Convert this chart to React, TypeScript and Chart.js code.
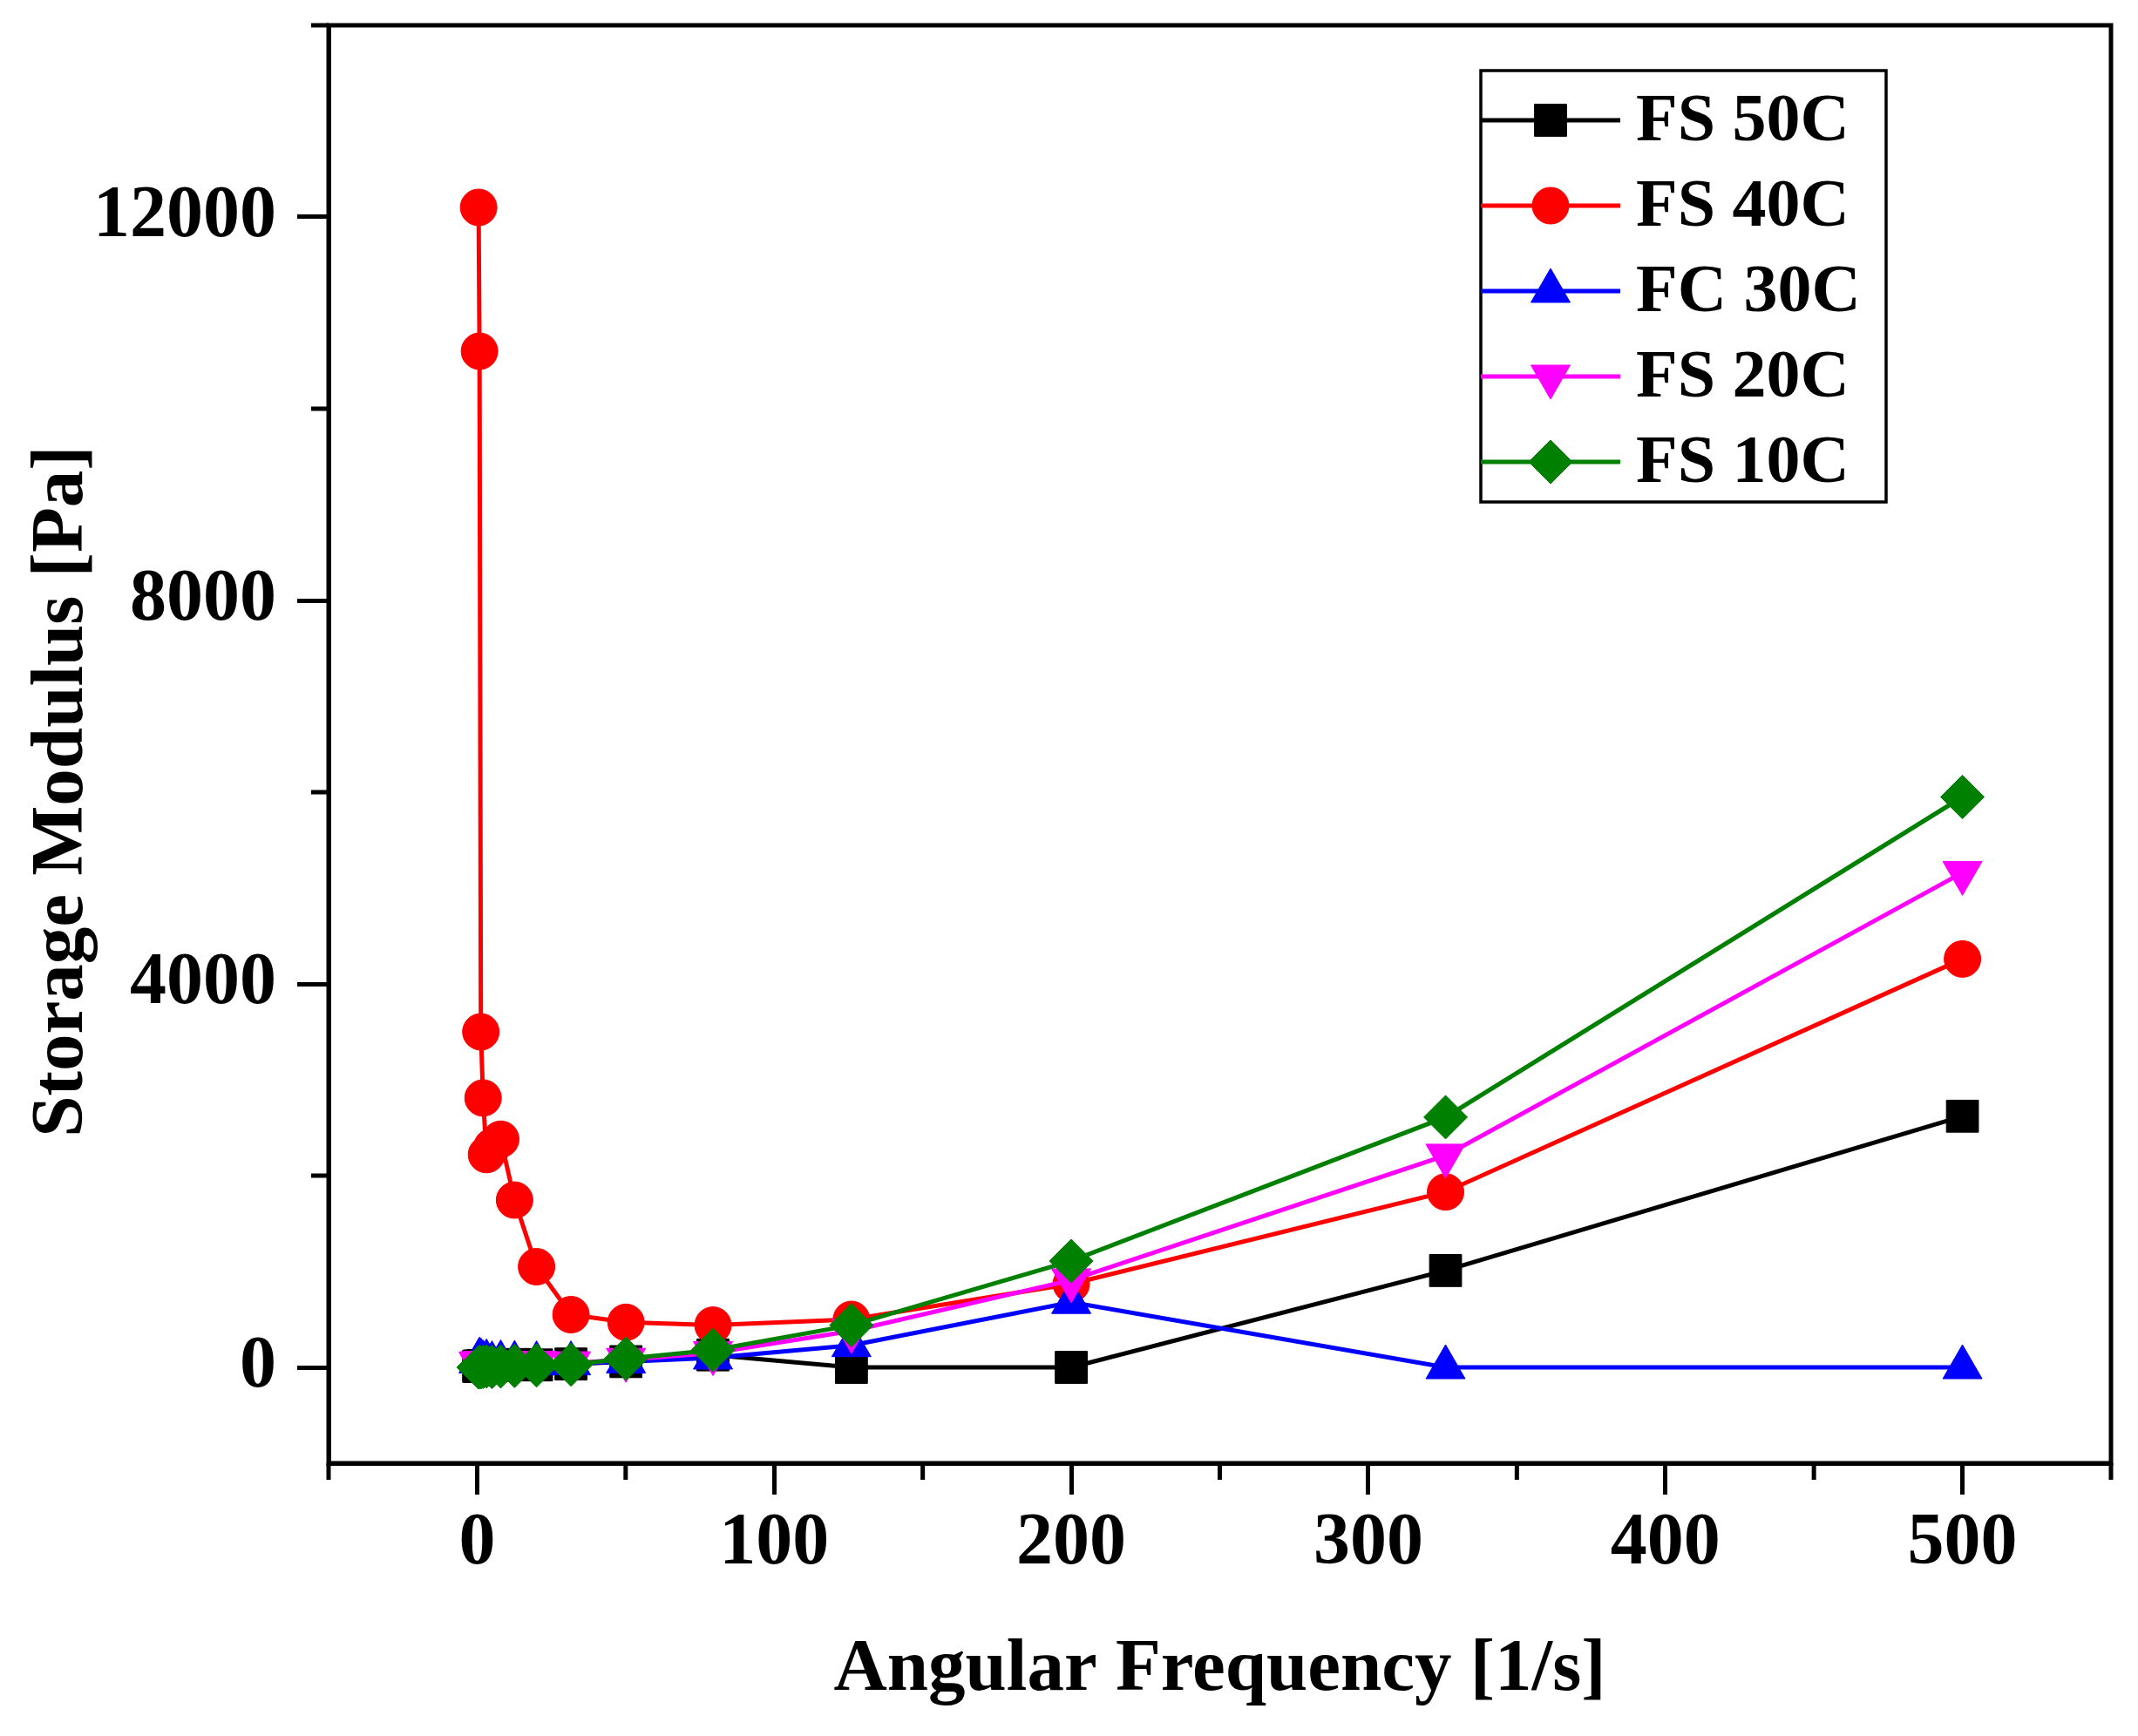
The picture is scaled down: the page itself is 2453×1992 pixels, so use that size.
import { useEffect, useRef } from 'react';
import { Chart, registerables } from 'chart.js';
import { drawPoint } from 'chart.js/helpers';

Chart.register(...registerables);

// angular frequency [1/s], shared by every series
const frequency = [0.5, 0.8, 1.26, 2, 3.16, 5, 7.94, 12.6, 20, 31.6, 50.1, 79.4, 126, 200, 326, 500];

const fs50 = [10, 15, 10, 20, 15, 25, 20, 30, 25, 35, 60, 130, 0, 0, 1010, 2620];
const fs40 = [12100, 10600, 3500, 2810, 2220, 2300, 2380, 1745, 1050, 550, 470, 440, 500, 870, 1830, 4260];
const fc30 = [60, 80, 70, 50, 60, 40, 50, 45, 40, 40, 60, 100, 230, 680, 0, 0];
const fs20 = [40, 45, 40, 50, 45, 40, 45, 40, 50, 45, 80, 150, 380, 910, 2210, 5160];
const fs10 = [0, 5, 0, 5, 10, 5, 10, 15, 20, 30, 90, 180, 440, 1110, 2610, 5950];

const seriesLabels = ['FS 50C', 'FS 40C', 'FC 30C', 'FS 20C', 'FS 10C'];

const xMajorTicks = [0, 100, 200, 300, 400, 500];
const xMinorTicks = [-50, 50, 150, 250, 350, 450, 550];
const yMajorTicks = [0, 4000, 8000, 12000];
const yMinorTicks = [2000, 6000, 10000, 14000];

const FONT = "'Liberation Serif', 'Times New Roman', serif";

const styles = [
  { color: '#000000', pointStyle: 'rect', radius: 26, rotation: 0 },
  { color: '#ff0000', pointStyle: 'circle', radius: 21, rotation: 0 },
  { color: '#0000ff', pointStyle: 'triangle', radius: 26, rotation: 0 },
  { color: '#ff00ff', pointStyle: 'triangle', radius: 26, rotation: 180 },
  { color: '#008000', pointStyle: 'rectRot', radius: 25, rotation: 0 },
];

// frame, minor ticks, y title and the boxed legend
const decorations = {
  id: 'decorations',
  afterDraw(chart: any) {
    const { ctx, chartArea } = chart;
    const xs = chart.scales.x;
    const ys = chart.scales.y;
    ctx.save();
    ctx.strokeStyle = '#000';
    ctx.lineWidth = 5;
    ctx.strokeRect(chartArea.left, chartArea.top, chartArea.right - chartArea.left, chartArea.bottom - chartArea.top);

    ctx.beginPath();
    xMinorTicks.forEach((v) => {
      const px = xs.getPixelForValue(v);
      ctx.moveTo(px, chartArea.bottom);
      ctx.lineTo(px, chartArea.bottom + 19);
    });
    yMinorTicks.forEach((v) => {
      const py = ys.getPixelForValue(v);
      ctx.moveTo(chartArea.left, py);
      ctx.lineTo(chartArea.left - 20, py);
    });
    ctx.stroke();

    // y axis title
    ctx.save();
    ctx.translate(72, 908);
    ctx.rotate(-Math.PI / 2);
    ctx.fillStyle = '#000';
    ctx.font = `bold 85px ${FONT}`;
    ctx.textAlign = 'center';
    ctx.textBaseline = 'middle';
    ctx.fillText('Storage Modulus [Pa]', 0, 0);
    ctx.restore();

    // legend
    const boxLeft = chartArea.right - 723;
    const boxTop = chartArea.top + 52;
    const boxW = 465;
    const boxH = 495;
    ctx.fillStyle = '#fff';
    ctx.fillRect(boxLeft, boxTop, boxW, boxH);
    ctx.lineWidth = 3.5;
    ctx.strokeStyle = '#000';
    ctx.strokeRect(boxLeft, boxTop, boxW, boxH);
    ctx.font = `bold 78px ${FONT}`;
    ctx.textAlign = 'left';
    ctx.textBaseline = 'middle';
    seriesLabels.forEach((label, i) => {
      const s = styles[i];
      const cy = boxTop + 57 + i * 98;
      ctx.strokeStyle = s.color;
      ctx.fillStyle = s.color;
      ctx.lineWidth = 5;
      ctx.beginPath();
      ctx.moveTo(boxLeft, cy);
      ctx.lineTo(boxLeft + 160, cy);
      ctx.stroke();
      ctx.lineWidth = 1;
      drawPoint(ctx, { pointStyle: s.pointStyle, radius: s.radius, rotation: s.rotation, borderWidth: 1 } as any, boxLeft + 80, cy);
      ctx.fillStyle = '#000';
      ctx.fillText(label, boxLeft + 178, cy + 3);
    });
    ctx.restore();
  },
};

const App = () => {
  const canvasRef = useRef<HTMLCanvasElement | null>(null);
  const chartRef = useRef<Chart | null>(null);

  useEffect(() => {
    document.body.style.margin = '0';
    if (!canvasRef.current) return;
    if (chartRef.current) chartRef.current.destroy();

    const series = [fs50, fs40, fc30, fs20, fs10];
    const ctx = canvasRef.current.getContext('2d');
    if (!ctx) return;

    chartRef.current = new Chart(ctx, {
      type: 'line',
      data: {
        datasets: series.map((vals, i) => ({
          label: seriesLabels[i],
          data: frequency.map((f, j) => ({ x: f, y: vals[j] })),
          borderColor: styles[i].color,
          backgroundColor: styles[i].color,
          pointBackgroundColor: styles[i].color,
          pointBorderColor: styles[i].color,
          pointBorderWidth: 1,
          pointStyle: styles[i].pointStyle as any,
          pointRadius: styles[i].radius,
          pointRotation: styles[i].rotation,
          borderWidth: 5,
          tension: 0,
          fill: false,
          order: 4 - i,
        })),
      },
      options: {
        responsive: false,
        animation: false,
        devicePixelRatio: 1,
        layout: { padding: { top: 29, right: 31, left: 0, bottom: 0 } },
        plugins: {
          legend: { display: false },
          tooltip: { enabled: false },
        },
        scales: {
          x: {
            type: 'linear',
            min: -50,
            max: 550,
            afterFit: (scale: any) => {
              scale.height = 313;
              scale.paddingLeft = 0;
              scale.paddingRight = 0;
            },
            afterBuildTicks: (scale: any) => {
              scale.ticks = xMajorTicks.map((v) => ({ value: v }));
            },
            grid: {
              drawOnChartArea: false,
              drawTicks: true,
              tickLength: 36,
              tickWidth: 5,
              tickColor: '#000',
            },
            border: { display: true, color: '#000', width: 5 },
            ticks: {
              color: '#000',
              padding: 7,
              font: { family: FONT, size: 84, weight: 'bold' },
              callback: (v: any) => String(v),
            },
            title: {
              display: true,
              text: 'Angular Frequency [1/s]',
              color: '#000',
              font: { family: FONT, size: 85, weight: 'bold' },
              padding: { top: 0, bottom: 24 },
            },
          },
          y: {
            type: 'linear',
            min: -1000,
            max: 14000,
            afterFit: (scale: any) => {
              scale.width = 377;
              scale.paddingTop = 0;
              scale.paddingBottom = 0;
            },
            afterBuildTicks: (scale: any) => {
              scale.ticks = yMajorTicks.map((v) => ({ value: v }));
            },
            grid: {
              drawOnChartArea: false,
              drawTicks: true,
              tickLength: 36,
              tickWidth: 5,
              tickColor: '#000',
            },
            border: { display: true, color: '#000', width: 5 },
            ticks: {
              color: '#000',
              padding: 24,
              font: { family: FONT, size: 84, weight: 'bold' },
              callback: (v: any) => String(v),
            },
          },
        },
      },
      plugins: [decorations],
    });

    return () => {
      if (chartRef.current) {
        chartRef.current.destroy();
        chartRef.current = null;
      }
    };
  }, []);

  return (
    <div style={{ width: 2453, height: 1992, background: '#fff' }}>
      <canvas ref={canvasRef} width={2453} height={1992} style={{ display: 'block' }}></canvas>
    </div>
  );
};

export default App;
